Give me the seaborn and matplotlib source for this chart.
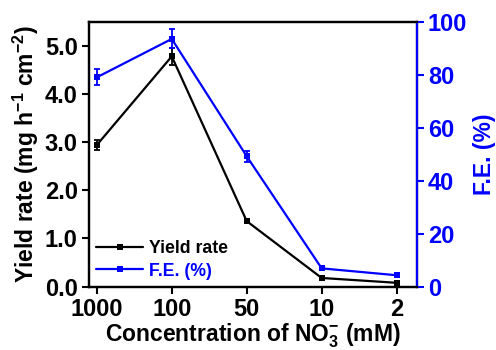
import matplotlib
matplotlib.use("Agg")
import matplotlib.pyplot as plt
import seaborn as sns
import pandas as pd
import numpy as np

sns.set_theme(style="ticks")
plt.rcParams["font.family"] = ["Liberation Sans", "DejaVu Sans"]
plt.rcParams["font.weight"] = "bold"
plt.rcParams["mathtext.default"] = "regular"
plt.rcParams["text.color"] = "black"
plt.rcParams["axes.labelcolor"] = "black"

# Nitrate concentrations (mM) shown as evenly spaced categories
concentrations = ["1000", "100", "50", "10", "2"]
yield_rate = [2.94, 4.78, 1.36, 0.18, 0.08]
yield_err = [0.11, 0.17, 0.03, 0.02, 0.02]
fe_percent = [79.0, 93.5, 49.2, 6.9, 4.3]
fe_err = [3.0, 3.6, 2.0, 0.6, 0.5]

df = pd.DataFrame({
    "pos": np.arange(len(concentrations)),
    "yield": yield_rate,
    "yerr": yield_err,
    "fe": fe_percent,
    "feerr": fe_err,
})

BLUE = "#0000ff"

fig = plt.figure(figsize=(4.96, 3.5), dpi=100)
ax = fig.add_axes([0.179, 0.181, 0.661, 0.757])
ax2 = ax.twinx()

sns.lineplot(data=df, x="pos", y="yield", ax=ax, color="black", lw=1.6,
             marker="s", markersize=5, markeredgewidth=0, label="Yield rate",
             legend=False)
ax.errorbar(df["pos"], df["yield"], yerr=df["yerr"], fmt="none",
            ecolor="black", elinewidth=1.3, capsize=2.5, capthick=1.3)

sns.lineplot(data=df, x="pos", y="fe", ax=ax2, color=BLUE, lw=1.6,
             marker="s", markersize=5, markeredgewidth=0, label="F.E. (%)",
             legend=False)
ax2.errorbar(df["pos"], df["fe"], yerr=df["feerr"], fmt="none",
             ecolor=BLUE, elinewidth=1.3, capsize=2.5, capthick=1.3)

ax.set_xlim(-0.107, 4.267)
ax.set_ylim(0, 5.5)
ax2.set_ylim(0, 100)
ax.set_xticks(df["pos"])
ax.set_xticklabels(concentrations)
ax.set_yticks(np.arange(0, 5.01, 1.0))
ax.set_yticklabels([f"{v:.1f}" for v in np.arange(0, 5.01, 1.0)])
ax2.set_yticks(np.arange(0, 101, 20))

for a in (ax, ax2):
    for s in a.spines.values():
        s.set_linewidth(1.6)
        s.set_color("black")
ax2.spines["right"].set_color(BLUE)

ax.tick_params(axis="both", direction="out", length=5, width=1.5,
               labelsize=17, colors="black", pad=3)
ax.tick_params(axis="x", pad=3)
ax2.tick_params(axis="y", direction="out", length=5, width=1.5,
                labelsize=17, colors=BLUE, pad=3)
for lbl in ax.get_xticklabels() + ax.get_yticklabels() + ax2.get_yticklabels():
    lbl.set_fontweight("bold")

ax.set_xlabel("Concentration of NO$_3^{-}$ (mM)", fontsize=16.5,
              fontweight="bold", labelpad=0.5)
ax.set_ylabel("Yield rate (mg h$^{-1}$ cm$^{-2}$)", fontsize=16.5,
              fontweight="bold", labelpad=3)
ax2.set_ylabel("F.E. (%)", fontsize=16.5, fontweight="bold", color=BLUE,
               labelpad=4)

h1, l1 = ax.get_legend_handles_labels()
h2, l2 = ax2.get_legend_handles_labels()
leg = ax.legend(h1 + h2, l1 + l2, loc="lower left", frameon=False,
                handlelength=2.7, handletextpad=0.3,
                labelspacing=0.3, borderaxespad=0.2, borderpad=0.2,
                prop={"weight": "bold", "size": 12.7})
for txt, c in zip(leg.get_texts(), ["black", BLUE]):
    txt.set_color(c)

fig.savefig("out.png", dpi=100)
